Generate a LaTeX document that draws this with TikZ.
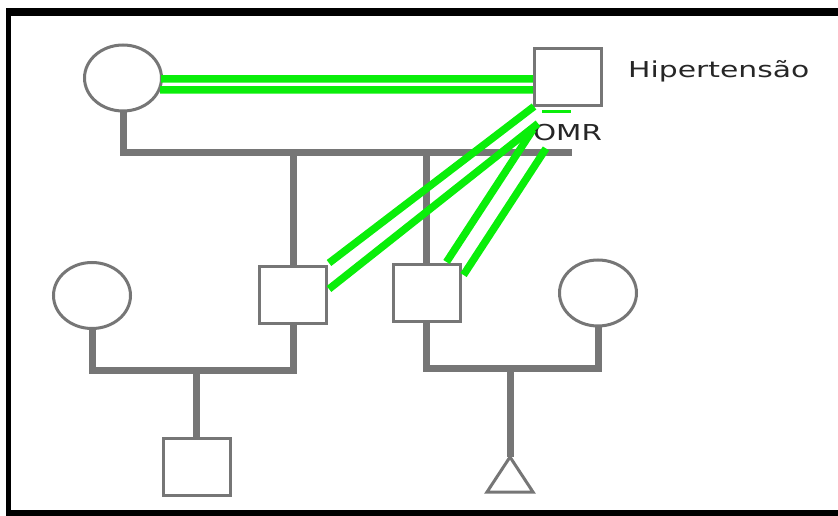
\documentclass[tikz,border=0pt]{standalone}
\usepackage{fontspec}
\usepackage{graphicx}
\newfontfamily\vfont{DejaVu Sans}
\usetikzlibrary{shapes.geometric,calc,backgrounds}
\definecolor{pg}{RGB}{118,118,118}
\definecolor{lg}{RGB}{10,238,10}
\begin{document}
\begin{tikzpicture}[x=1bp,y=-1bp,
 fem/.style={ellipse,draw=pg,line width=3bp,fill=white,inner sep=0,minimum width=77bp,minimum height=66bp},
 mal/.style={rectangle,draw=pg,line width=3bp,fill=white,inner sep=0,minimum width=67bp,minimum height=57bp},
 rel/.style={draw=pg,line width=7bp},
 tie/.style={draw=lg,line width=7.5bp},
 lab/.style={font=\vfont\fontsize{22}{26}\selectfont,text=black!85,inner sep=0}]
\useasboundingbox (0,0) rectangle (838,516);
% frame
\fill[black] (6,8) rectangle (838,16);
\fill[black] (6,8) rectangle (11,516);
\fill[black] (6,510) rectangle (838,516);
% nodes
\node[fem] (f1) at (123,78) {};
\node[mal] (m1) at (568,77.5) {};
\node[lab,anchor=west] (t1) at (628,71) {\scalebox{1.36}[1]{Hipertensão}};
\node[lab] (t2) at (567.5,133) {\scalebox{1.34}[1]{OMR}};
\node[mal] (c1) at (293,295) {};
\node[mal] (c2) at (426.5,293) {};
\node[fem] (w1) at (92,295.5) {};
\node[fem] (w2) at (598,293) {};
\node[mal] (g1) at (196.5,466.5) {};
\coordinate (g2) at (510,457);
\draw[pg,line width=3bp,line join=miter,fill=white] (g2) -- ++(-23,35) -- ++(46,0) -- cycle;
% junction coordinates
\coordinate (s1) at (123,153);
\coordinate (s2) at (572,153);
\coordinate (u1) at (196.5,370);
\coordinate (u2) at (510,368);
% gray lines behind the symbols
\begin{scope}[on background layer]
\draw[rel] (f1.center) -- (s1) -- (s2);
\draw[rel] (c1.center) -- (c1.center |- s1);
\draw[rel] (c2.center) -- (c2.center |- s1);
\draw[rel] (w1.center) -- (w1.center |- u1) -- (c1.center |- u1) -- (c1.center);
\draw[rel] (u1) -- (g1.center);
\draw[rel] (c2.center) -- (c2.center |- u2) -- (w2.center |- u2) -- (w2.center);
\draw[rel] (u2) -- (g2);
\end{scope}
% green ties
\draw[tie] ($(f1.east)+(-2,1)$) -- ($(m1.west)+(0,1.5)$);
\draw[tie] ($(f1.east)+(-3,12)$) -- ($(m1.west)+(0,12.5)$);
\draw[tie] ($(c1.north east)+(1,-2)$) -- ($(m1.south west)+(1,-1)$);
\draw[tie] ($(c1.east)+(1,-6)$) -- ($(m1.south west)+(5,16)$);
\draw[tie] ($(c2.north)+(20,-1)$) -- ($(m1.south west)+(0,22)$);
\draw[tie] ($(c2.east)+(2,-18)$) -- ($(m1.south west)+(13,41)$);
\draw[lg,line width=3bp] ($(m1.south west)+(9,4)$) -- ($(m1.south west)+(38,4)$);
\end{tikzpicture}
\end{document}
